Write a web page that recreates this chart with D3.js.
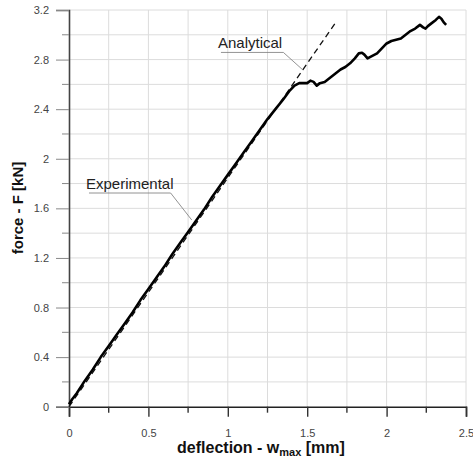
<!DOCTYPE html>
<html>
<head>
<meta charset="utf-8">
<script src="https://cdn.jsdelivr.net/npm/d3@7"></script>
<style>
  html, body { margin: 0; padding: 0; background: #fff; }
</style>
</head>
<body>
<script>
// Experimental force-deflection curve
const expDeflection = [0, 0.02, 0.05, 0.1, 0.15, 0.2, 0.25, 0.3, 0.35, 0.4, 0.45, 0.5, 0.55, 0.6, 0.65, 0.7,
  0.75, 0.8, 0.85, 0.9, 0.95, 1.0, 1.05, 1.1, 1.15, 1.2, 1.25, 1.3, 1.35, 1.39, 1.42, 1.45, 1.48, 1.5,
  1.52, 1.54, 1.56, 1.58, 1.61, 1.64, 1.68, 1.71, 1.74, 1.77, 1.8, 1.825, 1.845, 1.86, 1.88, 1.91, 1.94,
  1.97, 2.0, 2.03, 2.06, 2.09, 2.12, 2.15, 2.18, 2.21, 2.23, 2.245, 2.26, 2.28, 2.31, 2.33, 2.345, 2.36, 2.375];
const expForce = [0.02, 0.06, 0.11, 0.21, 0.30, 0.40, 0.49, 0.58, 0.67, 0.76, 0.86, 0.95, 1.04, 1.13, 1.23, 1.32,
  1.41, 1.50, 1.59, 1.69, 1.78, 1.87, 1.96, 2.05, 2.14, 2.23, 2.32, 2.40, 2.48, 2.55, 2.59, 2.61, 2.61, 2.61,
  2.63, 2.62, 2.59, 2.61, 2.62, 2.65, 2.69, 2.72, 2.74, 2.77, 2.81, 2.85, 2.855, 2.84, 2.81, 2.83, 2.85,
  2.89, 2.93, 2.95, 2.96, 2.97, 3.0, 3.03, 3.05, 3.08, 3.06, 3.05, 3.07, 3.09, 3.12, 3.145, 3.13, 3.10, 3.08];

// Analytical (linear) solution
const anaDeflection = [0, 1.683];
const anaForce = [0, 3.106];

const xTicks = [0, 0.5, 1, 1.5, 2, 2.5];
const xMinor = [0.25, 0.75, 1.25, 1.75, 2.25];
const yTicks = [0, 0.4, 0.8, 1.2, 1.6, 2, 2.4, 2.8, 3.2];
const yMinor = [0.2, 0.6, 1.0, 1.4, 1.8, 2.2, 2.6, 3.0];

// Labels: [text, textX, textY, underlineEndX, pointerX, pointerY] in data units
const labels = [
  ["Experimental", 0.107, 1.756, 0.640, 0.773, 1.506],
  ["Analytical", 0.938, 2.890, 1.350, 1.474, 2.715],
];

const width = 473, height = 461;
const M = {top: 10, right: 7, bottom: 54.3, left: 69};
const innerW = width - M.left - M.right;
const innerH = height - M.top - M.bottom;

const x = d3.scaleLinear().domain([0, 2.5]).range([0, innerW]);
const y = d3.scaleLinear().domain([0, 3.2]).range([innerH, 0]);

const svg = d3.select("body").append("svg")
  .attr("width", width).attr("height", height)
  .style("font-family", "'Liberation Sans', Arial, sans-serif");

const g = svg.append("g").attr("transform", `translate(${M.left},${M.top})`);

// Grid
const allX = [...xTicks, ...xMinor].filter(d => d > 0);
const allY = [...yTicks, ...yMinor].filter(d => d > 0);
g.append("g").selectAll("line").data(allX).join("line")
  .attr("x1", d => x(d)).attr("x2", d => x(d)).attr("y1", 0).attr("y2", innerH)
  .attr("stroke", "#dcdcdc").attr("stroke-width", 1);
g.append("g").selectAll("line").data(allY).join("line")
  .attr("x1", 0).attr("x2", innerW).attr("y1", d => y(d)).attr("y2", d => y(d))
  .attr("stroke", "#dcdcdc").attr("stroke-width", 1);

// X axis
const xAxis = g.append("g").attr("transform", `translate(0,${innerH})`)
  .call(d3.axisBottom(x).tickValues(xTicks).tickSize(10).tickPadding(13).tickFormat(d3.format("")))
  .call(ax => ax.select(".domain").attr("stroke", "#222").attr("stroke-width", 1.6))
  .call(ax => ax.selectAll(".tick line").attr("stroke", "#333").attr("stroke-width", 1.4))
  .call(ax => ax.selectAll(".tick text").attr("font-size", 11).attr("fill", "#444")
    .attr("font-family", "'Liberation Sans', Arial, sans-serif"));
xAxis.append("g").selectAll("line").data(xMinor).join("line")
  .attr("x1", d => x(d)).attr("x2", d => x(d)).attr("y1", 0).attr("y2", 6)
  .attr("stroke", "#333").attr("stroke-width", 1.4);

// Y axis
g.append("g")
  .call(d3.axisLeft(y).tickValues(yTicks).tickSize(13).tickPadding(7).tickFormat(d3.format("")))
  .call(ax => ax.select(".domain").attr("stroke", "#444").attr("stroke-width", 1.6))
  .call(ax => ax.selectAll(".tick line").attr("stroke", "#888").attr("stroke-width", 1))
  .call(ax => ax.selectAll(".tick text").attr("font-size", 11).attr("fill", "#444")
    .attr("font-family", "'Liberation Sans', Arial, sans-serif"))
  .append("g").selectAll("line").data(yMinor).join("line")
  .attr("x1", -7).attr("x2", 0).attr("y1", d => y(d)).attr("y2", d => y(d))
  .attr("stroke", "#888").attr("stroke-width", 1);

// Analytical line
g.append("path")
  .datum(anaDeflection.map((d, i) => [d, anaForce[i]]))
  .attr("fill", "none").attr("stroke", "#111").attr("stroke-width", 1.3)
  .attr("stroke-dasharray", "6,4")
  .attr("d", d3.line().x(d => x(d[0])).y(d => y(d[1])));

// Experimental curve
g.append("path")
  .datum(expDeflection.map((d, i) => [d, expForce[i]]))
  .attr("fill", "none").attr("stroke", "#000").attr("stroke-width", 2.6)
  .attr("stroke-linejoin", "round")
  .attr("d", d3.line().x(d => x(d[0])).y(d => y(d[1])));

// Labels with leader lines
labels.forEach(([text, tx, ty, ux, px, py]) => {
  g.append("text").attr("x", x(tx)).attr("y", y(ty))
    .attr("font-size", 15).attr("fill", "#222").text(text);
  const uy = y(ty) + 4;
  g.append("polyline")
    .attr("points", [[x(tx) + 3, uy], [x(ux), uy], [x(px), y(py)]].map(p => p.join(",")).join(" "))
    .attr("fill", "none").attr("stroke", "#777").attr("stroke-width", 0.8);
});

// Axis titles
const xt = svg.append("text").attr("x", 261).attr("y", 453)
  .attr("text-anchor", "middle").attr("font-size", 16).attr("font-weight", "bold").attr("fill", "#111");
xt.append("tspan").text("deflection - w");
xt.append("tspan").attr("font-size", 11).attr("dy", 3).text("max");
xt.append("tspan").attr("dy", -3).text(" [mm]");

svg.append("text").attr("transform", "translate(23,208) rotate(-90)")
  .attr("text-anchor", "middle").attr("font-size", 15).attr("font-weight", "bold").attr("fill", "#111")
  .text("force - F [kN]");
</script>
</body>
</html>
